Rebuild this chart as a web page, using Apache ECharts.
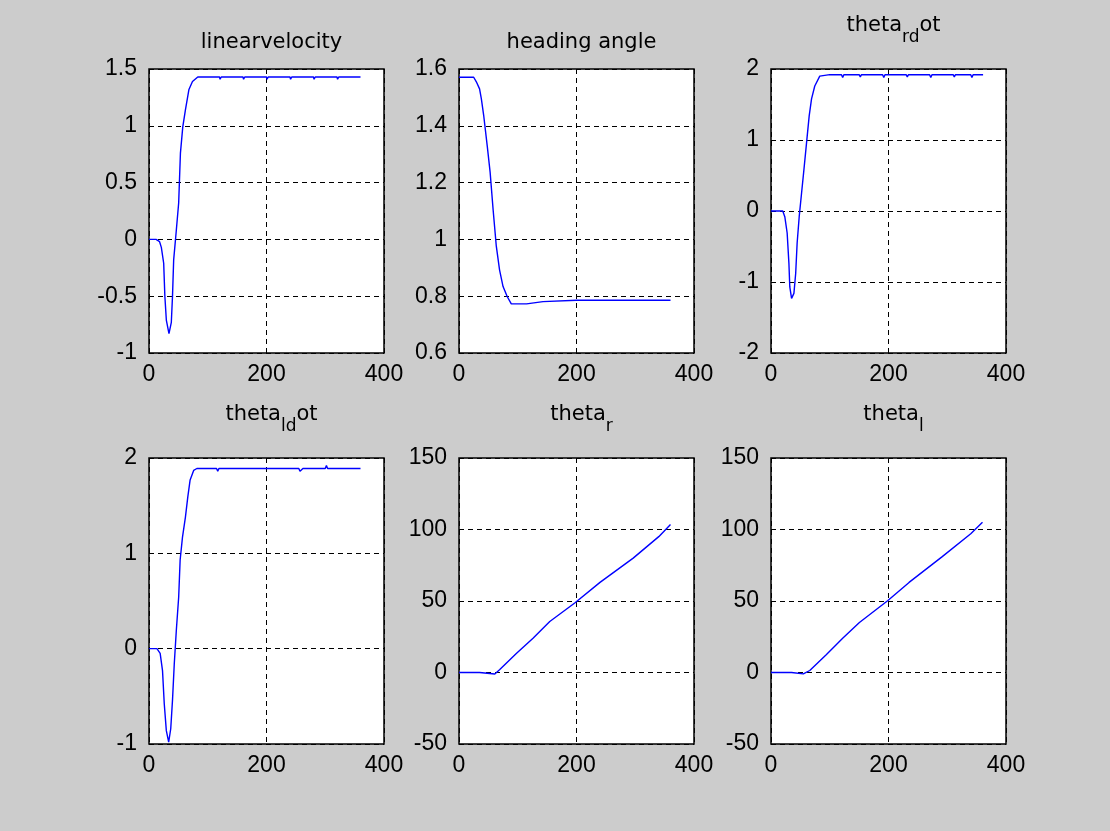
<!DOCTYPE html>
<html>
<head>
<meta charset="utf-8">
<script src="https://cdn.jsdelivr.net/npm/echarts@6/dist/echarts.min.js"></script>
<style>
  html, body { margin: 0; padding: 0; background: #cccccc; }
  #main { width: 1110px; height: 831px; }
</style>
</head>
<body>
<div id="main"></div>
<script>
// time axis (samples) and values
var velocityT = [0, 12, 18, 21, 25, 27, 29.5, 34, 38, 40, 42, 46.5, 50.5, 53.5, 57.5, 62, 68, 74, 83, 98, 120, 121, 123, 160, 161, 163, 200, 201, 203, 240, 241, 243, 280, 281, 283, 320, 321, 323, 360]
var velocityV = [0, 0, -0.02, -0.07, -0.21, -0.5, -0.71, -0.83, -0.73, -0.5, -0.18, 0.08, 0.32, 0.76, 0.99, 1.14, 1.32, 1.39, 1.43, 1.43, 1.43, 1.41, 1.43, 1.43, 1.41, 1.43, 1.43, 1.41, 1.43, 1.43, 1.41, 1.43, 1.43, 1.41, 1.43, 1.43, 1.41, 1.43, 1.43]

var headingT = [0, 25, 29.5, 35, 38, 42, 48, 53, 58, 63.5, 69, 75, 82, 89, 115, 118, 143, 145, 200, 300, 360]
var headingV = [1.571, 1.571, 1.555, 1.53, 1.496, 1.437, 1.33, 1.236, 1.106, 0.976, 0.893, 0.834, 0.799, 0.773, 0.773, 0.778, 0.781, 0.786, 0.786, 0.786, 0.786]

var rdotT = [0, 20, 23.5, 27.5, 30.5, 32, 35, 39, 42, 44.5, 48, 52, 56, 60.5, 65, 69, 74.5, 83, 100, 120, 122, 124, 150, 152, 154, 190, 192, 194, 230, 232, 234, 270, 272, 274, 310, 312, 314, 340, 342, 344, 361]
var rdotV = [0, 0, -0.08, -0.31, -0.74, -1.07, -1.23, -1.16, -0.88, -0.45, -0.08, 0.25, 0.58, 0.96, 1.34, 1.58, 1.76, 1.9, 1.92, 1.92, 1.88, 1.92, 1.92, 1.89, 1.92, 1.92, 1.88, 1.92, 1.92, 1.89, 1.92, 1.92, 1.88, 1.92, 1.92, 1.89, 1.92, 1.92, 1.88, 1.92, 1.92]

var ldotT = [0, 13.5, 19, 23, 26, 29.5, 33.5, 37, 40, 43, 46.5, 50.5, 53, 57, 62, 66, 70, 76, 81.5, 92, 94, 96, 115, 117, 119, 173, 175, 177, 255, 257, 260, 262, 271, 273, 275, 300, 302, 304, 360]
var ldotV = [0, 0, -0.05, -0.23, -0.58, -0.86, -0.98, -0.84, -0.54, -0.16, 0.19, 0.54, 0.93, 1.17, 1.38, 1.59, 1.77, 1.87, 1.89, 1.89, 1.91, 1.89, 1.89, 1.86, 1.89, 1.89, 1.91, 1.89, 1.89, 1.86, 1.87, 1.89, 1.89, 1.91, 1.89, 1.89, 1.92, 1.89, 1.89]

var thetaRT = [0, 35, 38, 61, 69, 98, 126, 154.5, 197, 240, 296.5, 340, 360]
var thetaRV = [0, 0, -1, -1, 1.9, 13.5, 24, 35.7, 48.6, 63, 80, 95, 103.5]

var thetaLT = [0, 35, 38, 55, 66, 94, 122, 150.5, 198.5, 235, 291.5, 340, 360]
var thetaLV = [0, 0, -1, -1, 1.4, 12.4, 24, 35, 50.2, 63, 81, 97, 105]

function zip (xs, ys) {
  return xs.map(function (x, i) { return [x, ys[i]] })
}

// 子图位置
var cols = [149, 459, 771]
var rows = [69, 458]
var gw = 235
var gh = [284, 286]

var plots = [
  {title: '{m|linearvelocity}', data: zip(velocityT, velocityV), min: -1, max: 1.5, step: 0.5},
  {title: '{m|heading angle}', data: zip(headingT, headingV), min: 0.6, max: 1.6, step: 0.2},
  {title: '{m|theta}{s|rd}{m|ot}', data: zip(rdotT, rdotV), min: -2, max: 2, step: 1},
  {title: '{m|theta}{s|ld}{m|ot}', data: zip(ldotT, ldotV), min: -1, max: 2, step: 1},
  {title: '{m|theta}{s|r}', data: zip(thetaRT, thetaRV), min: -50, max: 150, step: 50},
  {title: '{m|theta}{s|l}', data: zip(thetaLT, thetaLV), min: -50, max: 150, step: 50}
]

var dashed = {show: true, lineStyle: {color: '#000', type: [5, 4], width: 1}}
var labelFont = {color: '#000', fontFamily: 'Liberation Sans', fontSize: 23}

var grid = []
var xAxis = []
var yAxis = []
var series = []
var title = []

plots.forEach(function (p, i) {
  var r = Math.floor(i / 3)
  var c = i % 3
  var hasSub = p.title.indexOf('{s|') >= 0
  grid.push({
    left: cols[c], top: rows[r], width: gw, height: gh[r],
    show: true, backgroundColor: '#fff', borderColor: '#000', borderWidth: 1.5
  })
  title.push({
    text: p.title,
    left: cols[c] + gw / 2,
    textAlign: 'center',
    top: rows[r] - (hasSub ? 60 : 43),
    textStyle: {
      fontWeight: 'normal',
      rich: {
        m: {fontFamily: 'DejaVu Sans', fontSize: 21, fontWeight: 'normal', color: '#000', lineHeight: 24},
        s: {fontFamily: 'DejaVu Sans', fontSize: 17, fontWeight: 'normal', color: '#000', lineHeight: 18, padding: [24, 0, 0, 0]}
      }
    }
  })
  xAxis.push({
    gridIndex: i, type: 'value', min: 0, max: 400, interval: 200,
    axisLine: {show: false}, axisTick: {show: false},
    splitLine: dashed,
    axisLabel: Object.assign({margin: 10, showMinLabel: true, showMaxLabel: true}, labelFont)
  })
  yAxis.push({
    gridIndex: i, type: 'value', min: p.min, max: p.max, interval: p.step,
    axisLine: {show: false}, axisTick: {show: false},
    splitLine: dashed,
    axisLabel: Object.assign({
      margin: 12,
      formatter: function (v) { return String(+v.toFixed(2)) }
    }, labelFont)
  })
  series.push({
    type: 'line', xAxisIndex: i, yAxisIndex: i,
    showSymbol: false, animation: false,
    lineStyle: {color: '#0000ff', width: 1.4},
    data: p.data
  })
})

var chart = echarts.init(document.getElementById('main'))
chart.setOption({
  backgroundColor: '#cccccc',
  animation: false,
  title: title,
  grid: grid,
  xAxis: xAxis,
  yAxis: yAxis,
  series: series
})
</script>
</body>
</html>
